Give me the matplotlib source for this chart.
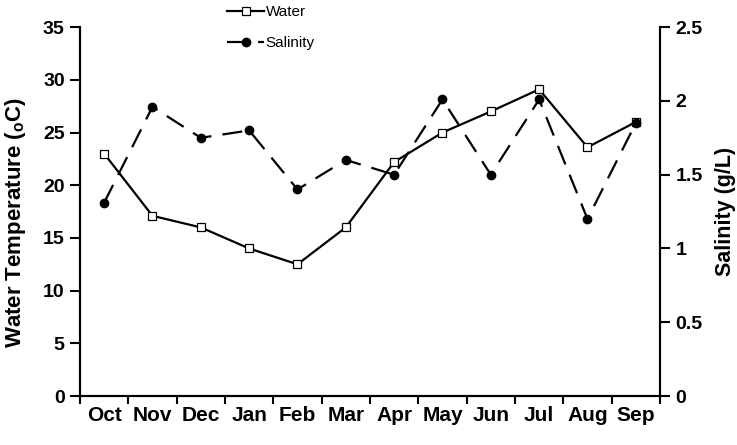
import matplotlib
matplotlib.use("Agg")
import matplotlib.pyplot as plt
import numpy as np

months = ['Oct', 'Nov', 'Dec', 'Jan', 'Feb', 'Mar', 'Apr', 'May', 'Jun', 'Jul', 'Aug', 'Sep']
water_temp = [23.0, 17.1, 16.0, 14.0, 12.5, 16.0, 22.2, 25.0, 27.0, 29.1, 23.6, 26.0]
salinity = [1.31, 1.96, 1.75, 1.80, 1.40, 1.60, 1.50, 2.01, 1.50, 2.01, 1.20, 1.85]

plt.rcParams['font.family'] = ['Liberation Sans', 'DejaVu Sans']
plt.rcParams['font.weight'] = 'bold'

fig = plt.figure(figsize=(7.37, 4.45), dpi=100)
ax = fig.add_axes([0.1085, 0.110, 0.787, 0.829])
ax2 = ax.twinx()

x = np.arange(len(months))
l1, = ax.plot(x, water_temp, color='black', lw=1.6, marker='s', ms=6,
              markerfacecolor='white', markeredgecolor='black', markeredgewidth=0.9,
              label='Water', zorder=3)
l2, = ax2.plot(x, salinity, color='black', lw=1.6, ls=(0, (9, 5)), marker='o', ms=6,
               markerfacecolor='black', label='Salinity')

ax.set_xlim(-0.5, 11.5)
ax.set_ylim(0, 35)
ax2.set_ylim(0, 2.5)
ax.set_yticks(range(0, 36, 5))
ax2.set_yticks([0, 0.5, 1, 1.5, 2, 2.5])
ax2.set_yticklabels(['0', '0.5', '1', '1.5', '2', '2.5'])

ax.set_xticks(x)
ax.set_xticklabels(months, fontsize=15, fontweight='bold')
ax.set_xticks(np.arange(-0.5, 12, 1), minor=True)
ax.tick_params(axis='x', which='major', length=0, pad=7)
ax.tick_params(axis='x', which='minor', length=6, width=1.5, direction='out')
ax.tick_params(axis='y', direction='out', length=7, width=1.5, labelsize=14, pad=4)
ax2.tick_params(axis='y', direction='out', length=7, width=1.5, labelsize=14, pad=4)

for a in (ax, ax2):
    a.spines['top'].set_visible(False)
    for s in ('left', 'right', 'bottom'):
        a.spines[s].set_linewidth(1.5)

ax.set_ylabel(r'Water Temperature ($_\mathregular{o}$C)', fontsize=16, fontweight='bold')
ax.yaxis.set_label_coords(-0.09, 0.47)
ax2.set_ylabel('Salinity (g/L)', fontsize=15.5, fontweight='bold', labelpad=9)

fig.legend(handles=[l1, l2], loc='upper left', bbox_to_anchor=(0.29, 1.02),
           frameon=False, handlelength=2.4, handletextpad=0.1,
           labelspacing=1.15, prop={'weight': 'normal', 'size': 11})

fig.savefig('out.png', dpi=100)
